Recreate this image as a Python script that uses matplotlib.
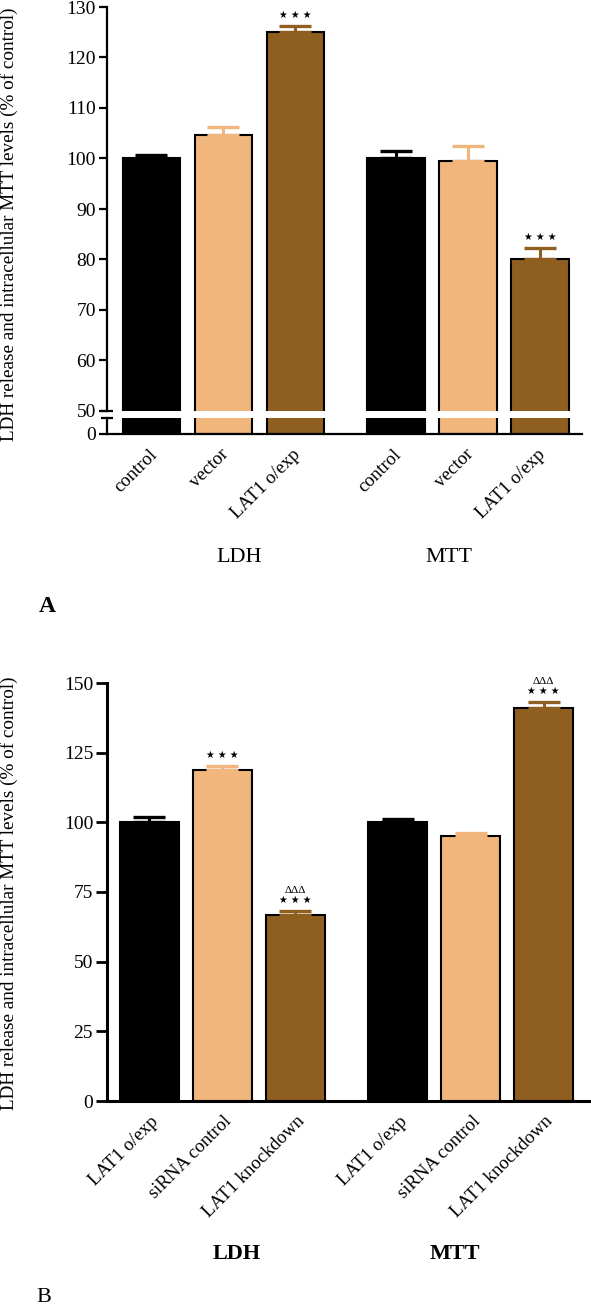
import matplotlib
matplotlib.use('Agg')
import matplotlib.pyplot as plt
from matplotlib.transforms import blended_transform_factory, offset_copy

plt.rcParams['font.family'] = ['Liberation Serif', 'DejaVu Sans']

# data
groups = ['LDH', 'MTT']
cats_a = ['control', 'vector', 'LAT1 o/exp']
ldh_a = [100.0, 104.6, 125.0]
ldh_a_err = [0.7, 1.6, 1.3]
mtt_a = [100.0, 99.5, 80.1]
mtt_a_err = [1.4, 2.9, 2.1]
sig_a = ['', '', '***', '', '', '***']
tri_a = ['', '', '', '', '', '']

cats_b = ['LAT1 o/exp', 'siRNA control', 'LAT1 knockdown']
ldh_b = [100.0, 118.7, 66.8]
ldh_b_err = [1.8, 1.5, 1.4]
mtt_b = [100.0, 95.2, 141.0]
mtt_b_err = [1.2, 1.0, 2.2]
sig_b = ['', '***', '***', '', '', '***']
tri_b = ['', '', 'ddd', '', '', 'ddd']

colors = ['#000000', '#F0B67C', '#8F5F1F']
ylabel = 'LDH release and intracellular MTT levels (% of control)'

W, H = 591, 1309
fig = plt.figure(figsize=(W/100, H/100), dpi=100)


def rect(x0, x1, ytop, ybot):
    return [x0/W, 1 - ybot/H, (x1 - x0)/W, (ybot - ytop)/H]


xpos = [0, 1, 2, 3.4, 4.4, 5.4]


def draw_bars(ax, vals, errs, with_err=True):
    for i, (x, v, e) in enumerate(zip(xpos, vals, errs)):
        c = colors[i % 3]
        ax.bar(x, v, width=0.8, color=c, edgecolor='black', linewidth=1.5, zorder=2)
        if with_err:
            ax.errorbar(x, v, yerr=[[0], [e]], fmt='none', ecolor=c, elinewidth=2.2,
                        capsize=11.5, capthick=2.4, zorder=3)


def annotate(ax, vals, errs, sig, tri):
    for x, v, e, s, t in zip(xpos, vals, errs, sig, tri):
        if s:
            ax.annotate('\u2605 \u2605 \u2605', xy=(x, v + e), xytext=(0, 8),
                        textcoords='offset points', ha='center', va='center', fontsize=7,
                        family=['DejaVu Sans'], annotation_clip=False)
        if t:
            ax.annotate('\u0394\u0394\u0394', xy=(x, v + e), xytext=(0, 15),
                        textcoords='offset points', ha='center', va='center', fontsize=8,
                        annotation_clip=False)


def xlabels(ax, cats, dx, dy):
    tr = blended_transform_factory(ax.transData, ax.transAxes)
    tr = offset_copy(tr, fig=fig, x=dx, y=dy, units='points')
    for i, x in enumerate(xpos):
        ax.text(x, 0, cats[i % 3], transform=tr, rotation=45, rotation_mode='anchor',
                ha='right', va='center', fontsize=13.5)


# ---- panel A (broken axis)
vals_a = ldh_a + mtt_a
errs_a = ldh_a_err + mtt_a_err
ax_top = fig.add_axes(rect(107, 582, 7, 411))
ax_bot = fig.add_axes(rect(107, 582, 418, 434))
for ax in (ax_top, ax_bot):
    ax.set_xlim(-0.618, 5.98)
    ax.spines['top'].set_visible(False)
    ax.spines['right'].set_visible(False)
    ax.spines['left'].set_linewidth(1.6)
    ax.spines['bottom'].set_linewidth(1.6)
    ax.tick_params(axis='y', length=6, width=1.6, pad=2, labelsize=14)
    ax.tick_params(axis='x', length=0, labelbottom=False)
    ax.set_facecolor('none')

draw_bars(ax_top, vals_a, errs_a)
draw_bars(ax_bot, vals_a, errs_a, with_err=False)
ax_top.set_ylim(50, 130)
ax_top.set_yticks(range(50, 131, 10))
ax_top.spines['bottom'].set_visible(False)
ax_bot.set_ylim(0, 3.2)
ax_bot.set_yticks([0])
annotate(ax_top, vals_a, errs_a, sig_a, tri_a)
# break marks
ax_top.plot([0], [0], marker='_', markersize=9, mew=1.6, color='black',
            transform=ax_top.transAxes, clip_on=False)
ax_bot.plot([0], [1], marker='_', markersize=9, mew=1.6, color='black',
            transform=ax_bot.transAxes, clip_on=False)
xlabels(ax_bot, cats_a, 2, -13)

fig.text(239/W, 1 - 557/H, groups[0], ha='center', va='center', fontsize=16)
fig.text(449/W, 1 - 557/H, groups[1], ha='center', va='center', fontsize=16)
fig.text(47/W, 1 - 606/H, 'A', ha='center', va='center', fontsize=17, fontweight='bold')
fig.text(9/W, 1 - 224/H, ylabel, rotation=90, ha='center', va='center', fontsize=13.8)

# ---- panel B
vals_b = ldh_b + mtt_b
errs_b = ldh_b_err + mtt_b_err
tri_b = ['\u0394' if t else '' for t in tri_b]
ax_b = fig.add_axes(rect(107, 591, 683, 1101))
ax_b.set_xlim(-0.58, 6.05)
ax_b.set_ylim(0, 150)
ax_b.set_yticks(range(0, 151, 25))
ax_b.spines['top'].set_visible(False)
ax_b.spines['right'].set_visible(False)
ax_b.spines['left'].set_linewidth(2.2)
ax_b.spines['bottom'].set_linewidth(2.2)
ax_b.tick_params(axis='y', length=8, width=2.0, pad=2, labelsize=14)
ax_b.tick_params(axis='x', length=0, labelbottom=False)
draw_bars(ax_b, vals_b, errs_b)
annotate(ax_b, vals_b, errs_b, sig_b, tri_b)
xlabels(ax_b, cats_b, 5, -13)

fig.text(237/W, 1 - 1254/H, groups[0], ha='center', va='center', fontsize=16, fontweight='bold')
fig.text(455/W, 1 - 1254/H, groups[1], ha='center', va='center', fontsize=16, fontweight='bold')
fig.text(44/W, 1 - 1298/H, 'B', ha='center', va='center', fontsize=16)
fig.text(9/W, 1 - 893/H, ylabel, rotation=90, ha='center', va='center', fontsize=13.8)

fig.savefig('out.png', dpi=100)
